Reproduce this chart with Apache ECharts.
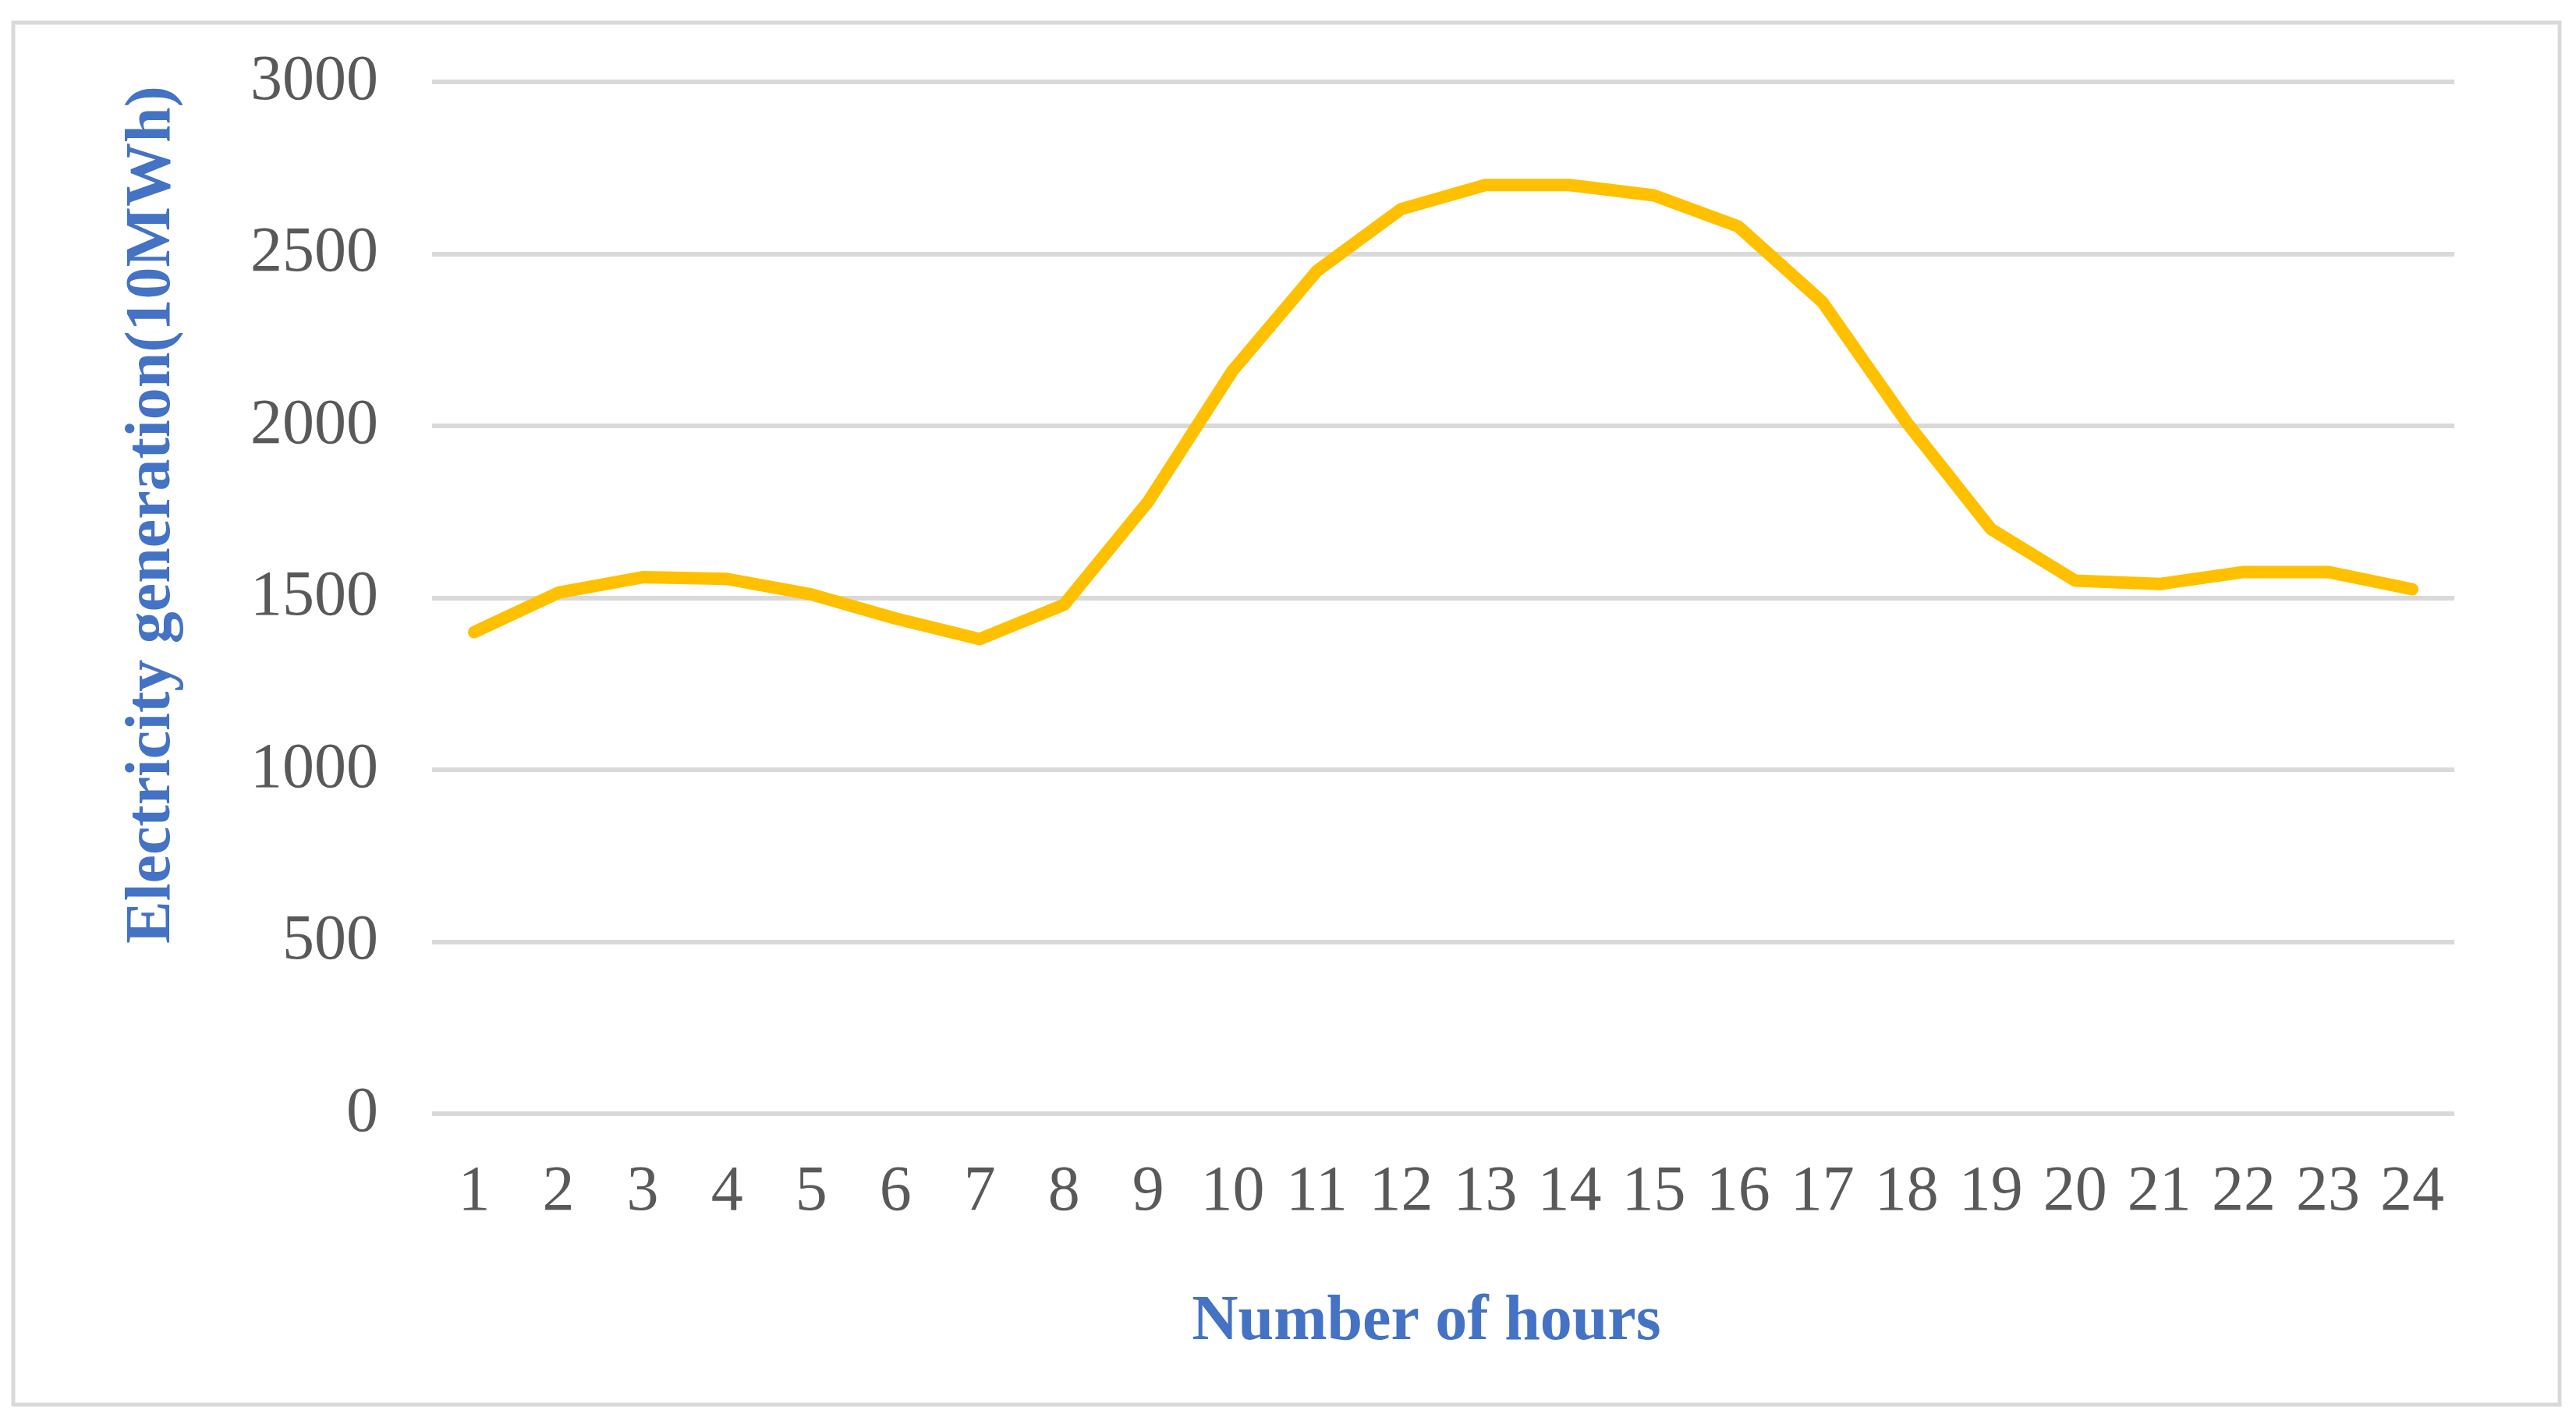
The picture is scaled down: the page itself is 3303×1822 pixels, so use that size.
<!DOCTYPE html>
<html>
<head>
<meta charset="utf-8">
<script src="https://cdn.jsdelivr.net/npm/echarts@6/dist/echarts.min.js"></script>
<style>
  html, body { margin: 0; padding: 0; background: #fff; }
  #chart { width: 3303px; height: 1822px; }
</style>
</head>
<body>
<div id="chart"></div>
<script>
// hours on the x axis
var hours = ['1', '2', '3', '4', '5', '6', '7', '8', '9', '10', '11', '12',
  '13', '14', '15', '16', '17', '18', '19', '20', '21', '22', '23', '24'];
// electricity generation, unit 10MWh
var generation = [1400, 1515, 1560, 1555, 1510, 1440, 1380, 1480, 1780, 2160, 2450, 2630,
  2700, 2700, 2670, 2580, 2360, 2010, 1700, 1550, 1540, 1575, 1575, 1525];
var yTicks = { min: 0, max: 3000, interval: 500 };

var serif = '"Liberation Serif", "Times New Roman", serif';
var chart = echarts.init(document.getElementById('chart'));

chart.setOption({
  backgroundColor: '#fff',
  animation: false,
  grid: { left: 554, right: 156, top: 105, bottom: 394 },
  xAxis: {
    type: 'category',
    data: hours,
    boundaryGap: true,
    axisLine: { show: false },
    axisTick: { show: false },
    axisLabel: { color: '#595959', fontFamily: serif, fontSize: 82, margin: 60, interval: 0 }
  },
  yAxis: {
    type: 'value',
    min: yTicks.min,
    max: yTicks.max,
    interval: yTicks.interval,
    axisLine: { show: false },
    axisTick: { show: false },
    axisLabel: {
      color: '#595959', fontFamily: serif, fontSize: 82, margin: 69,
      formatter: function (v) { return String(v); }
    },
    splitLine: { lineStyle: { color: '#d9d9d9', width: 6 } }
  },
  series: [{
    type: 'line',
    data: generation,
    symbol: 'none',
    lineStyle: { color: '#FFC000', width: 16, join: 'round', cap: 'round' }
  }],
  graphic: [
    {
      type: 'rect',
      shape: { x: 17, y: 29, width: 3265, height: 1772 },
      style: { fill: 'none', stroke: '#d9d9d9', lineWidth: 5 },
      silent: true
    },
    {
      type: 'text',
      x: 1829, y: 1696,
      style: {
        text: 'Number of hours', fill: '#4472C4', fontFamily: serif,
        fontWeight: 'bold', fontSize: 82, align: 'center', verticalAlign: 'middle'
      }
    },
    {
      type: 'text',
      x: 196, y: 660,
      rotation: Math.PI / 2,
      style: {
        text: 'Electricity generation(10MWh)', fill: '#4472C4', fontFamily: serif,
        fontWeight: 'bold', fontSize: 82, align: 'center', verticalAlign: 'middle'
      }
    }
  ]
});
</script>
</body>
</html>
